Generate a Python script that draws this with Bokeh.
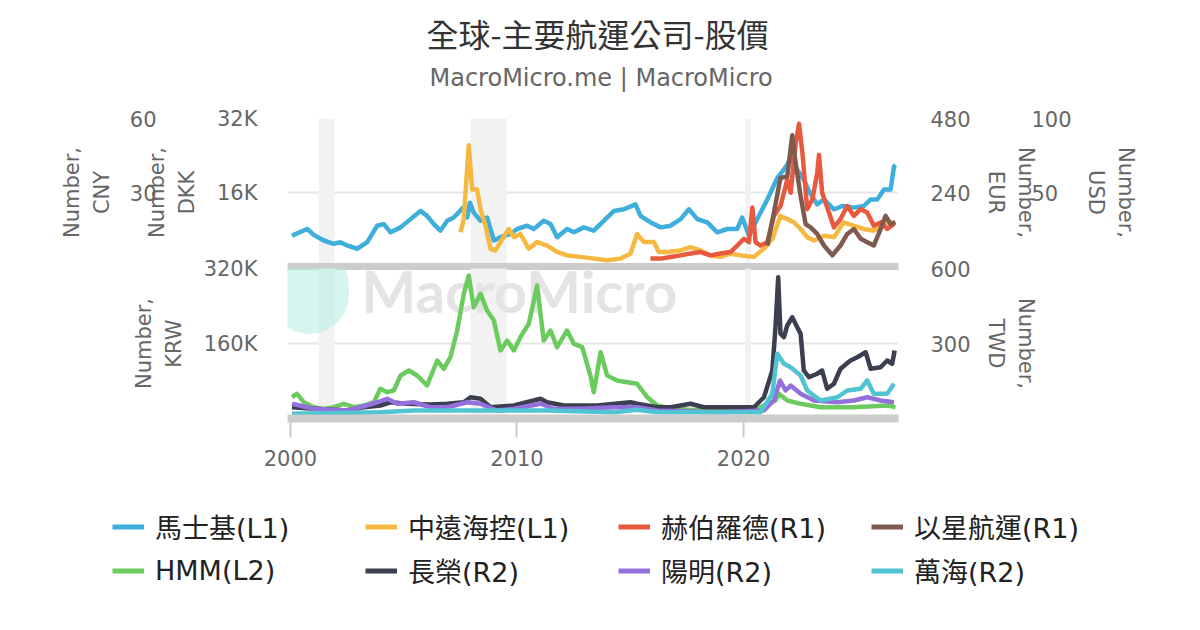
from bokeh.plotting import figure
from bokeh.layouts import column
from bokeh.models import (Range1d, LinearAxis, FixedTicker, BoxAnnotation,
                          Label, Legend, LegendItem, Title)
from bokeh.embed import file_html
from bokeh.resources import INLINE

# ---------------- data ----------------
maersk_dkk = [(2000.07, 6680), (2000.74, 8110), (2001.03, 6830), (2001.47, 5620), (2001.91, 4910),
              (2002.2, 5260), (2002.5, 4550), (2002.94, 3840), (2003.39, 5260), (2003.83, 8820),
              (2004.12, 9170), (2004.42, 7400), (2004.86, 8460), (2005.3, 10240), (2005.74, 12020),
              (2006.03, 10950), (2006.33, 9170), (2006.62, 7750), (2006.92, 9880), (2007.21, 10600),
              (2007.62, 12730), (2007.8, 10600), (2007.92, 13800), (2008.09, 11660), (2008.39, 9880),
              (2008.68, 10600), (2008.98, 5620), (2009.27, 6330), (2009.71, 7040), (2010.01, 8110),
              (2010.45, 8820), (2010.74, 8110), (2011.18, 9880), (2011.48, 9170), (2011.77, 6330),
              (2012.21, 8110), (2012.51, 7400), (2012.95, 8460), (2013.39, 7750), (2013.83, 9880),
              (2014.28, 12020), (2014.72, 12370), (2015.23, 13440), (2015.45, 10950), (2015.9, 9530),
              (2016.34, 8460), (2016.78, 8820), (2017.22, 10240), (2017.59, 12370), (2017.96, 10240),
              (2018.4, 9530), (2018.84, 7400), (2019.28, 8110), (2019.72, 8110), (2019.94, 10600),
              (2020.24, 6680), (2020.6, 10240), (2021.05, 14500), (2021.49, 19130), (2021.93, 21970),
              (2022.08, 23750), (2022.37, 20900), (2022.66, 18770), (2022.89, 16280), (2023.25, 13440),
              (2023.55, 14500), (2023.99, 12370), (2024.36, 13080), (2024.87, 12730), (2025.31, 13080),
              (2025.61, 14500), (2025.9, 14500), (2026.2, 16640), (2026.49, 16640), (2026.64, 21610),
              (2026.71, 21970)]
cosco_cny = [(2007.51, 13.9), (2007.65, 19.2), (2007.87, 49.2), (2008.02, 31.2), (2008.24, 31.2),
             (2008.39, 23.2), (2008.61, 16.5), (2008.83, 7.2), (2009.05, 6.5), (2009.27, 9.9),
             (2009.64, 15.2), (2009.86, 11.9), (2010.15, 13.2), (2010.52, 7.2), (2010.89, 9.9),
             (2011.33, 8.5), (2011.77, 5.9), (2012.21, 4.5), (2012.8, 3.9), (2013.39, 3.2),
             (2013.98, 2.5), (2014.57, 3.2), (2015.01, 5.2), (2015.3, 13.2), (2015.6, 9.9),
             (2016.04, 9.9), (2016.26, 5.9), (2016.63, 5.9), (2017.22, 6.5), (2017.66, 7.9),
             (2018.1, 6.5), (2018.54, 4.5), (2018.98, 3.9), (2019.43, 5.2), (2019.87, 4.5),
             (2020.46, 3.9), (2020.9, 7.2), (2021.27, 11.2), (2021.63, 20.5), (2021.93, 19.2),
             (2022.22, 17.9), (2022.52, 15.2), (2022.81, 11.9), (2023.11, 10.5), (2023.55, 12.5),
             (2023.99, 11.9), (2024.43, 17.9), (2024.87, 16.5), (2025.31, 15.2), (2025.75, 14.5),
             (2026.2, 17.2), (2026.64, 17.9)]
hapag_eur = [(2015.89, 25.6), (2016.34, 25.6), (2016.78, 31), (2017.22, 36), (2017.66, 42),
             (2018.1, 47), (2018.54, 36), (2018.98, 42), (2019.43, 47), (2019.72, 68),
             (2020.02, 90), (2020.24, 79), (2020.39, 191), (2020.53, 79), (2020.75, 68),
             (2021.05, 79), (2021.34, 164), (2021.63, 196), (2021.93, 282), (2022.08, 239),
             (2022.3, 399), (2022.45, 463), (2022.6, 367), (2022.81, 186), (2023.04, 218),
             (2023.25, 303), (2023.33, 362), (2023.47, 239), (2023.77, 175), (2023.99, 127),
             (2024.28, 154), (2024.58, 196), (2024.87, 164), (2025.17, 186), (2025.46, 175),
             (2025.75, 132), (2026.05, 143), (2026.34, 122), (2026.64, 138)]
zim_usd = [(2021.05, 14.2), (2021.34, 36.4), (2021.63, 59.8), (2021.93, 60.9), (2022.15, 88.7),
           (2022.3, 69.8), (2022.52, 47.6), (2022.74, 28.7), (2022.96, 26.4), (2023.25, 22),
           (2023.55, 14.2), (2023.92, 7.6), (2024.28, 14.2), (2024.58, 22), (2024.87, 25.3),
           (2025.17, 18.7), (2025.46, 16.4), (2025.75, 14.2), (2026.05, 25.3), (2026.27, 34.2),
           (2026.49, 28.7), (2026.71, 29.8)]
hmm_krw = [(2000.07, 45500), (2000.29, 52600), (2000.59, 34800), (2001.03, 24200), (2001.47, 20600),
           (2001.91, 24200), (2002.35, 31300), (2002.8, 24200), (2003.24, 27700), (2003.68, 34800),
           (2003.97, 63300), (2004.27, 56200), (2004.56, 59700), (2004.86, 91700), (2005.23, 102400),
           (2005.59, 91700), (2006.03, 70400), (2006.48, 123700), (2006.77, 106000), (2007.06, 130800),
           (2007.36, 187700), (2007.65, 266000), (2007.87, 305000), (2008.09, 237500), (2008.39, 266000),
           (2008.68, 230400), (2008.98, 209100), (2009.27, 145100), (2009.57, 166400), (2009.86, 145100),
           (2010.15, 173500), (2010.52, 202000), (2010.89, 283700), (2011.18, 166400), (2011.48, 187700),
           (2011.77, 152100), (2012.21, 187700), (2012.51, 159300), (2012.88, 152100), (2013.24, 91700),
           (2013.39, 56100), (2013.69, 141400), (2013.98, 91700), (2014.42, 81100), (2014.86, 77400),
           (2015.3, 74000), (2015.75, 45500), (2016.19, 27700), (2016.78, 20700), (2018.25, 17100),
           (2019.72, 17100), (2020.46, 17100), (2021.05, 31300), (2021.41, 38400), (2021.56, 52600),
           (2021.93, 38400), (2022.52, 31300), (2023.4, 24200), (2024.87, 24200), (2026.34, 27700),
           (2026.71, 24200)]
evergreen_twd = [(2000.07, 45), (2001.03, 39), (2002.5, 32), (2003.24, 45), (2003.97, 52), (2004.42, 65),
                 (2005.15, 59), (2006.18, 56), (2006.92, 59), (2007.65, 65), (2007.95, 85), (2008.39, 79),
                 (2008.83, 45), (2009.86, 52), (2011.04, 79), (2011.33, 65), (2012.07, 52), (2013.54, 52),
                 (2015.01, 65), (2015.3, 59), (2016.19, 45), (2016.78, 45), (2017.66, 59), (2018.25, 45),
                 (2019.72, 45), (2020.46, 45), (2020.9, 85), (2021.27, 192), (2021.41, 365), (2021.53, 565),
                 (2021.63, 339), (2021.78, 325), (2021.93, 372), (2022.15, 405), (2022.37, 365),
                 (2022.52, 339), (2022.66, 192), (2022.89, 165), (2023.25, 179), (2023.47, 192),
                 (2023.69, 119), (2023.99, 139), (2024.28, 199), (2024.72, 232), (2025.02, 245),
                 (2025.39, 265), (2025.61, 199), (2026.05, 205), (2026.34, 232), (2026.56, 219),
                 (2026.67, 272)]
yangming_twd = [(2000.07, 59), (2001.03, 39), (2002.5, 32), (2003.09, 45), (2003.83, 65), (2004.27, 79),
                (2004.71, 59), (2005.45, 65), (2006.18, 45), (2006.92, 45), (2007.8, 65), (2008.39, 59),
                (2009.12, 32), (2009.86, 39), (2011.04, 59), (2011.62, 39), (2012.8, 39), (2014.28, 45),
                (2015.3, 45), (2016.2, 32), (2018.98, 25), (2020.9, 32), (2021.34, 72), (2021.61, 152),
                (2021.86, 112), (2022.08, 132), (2022.52, 99), (2023.11, 72), (2024.14, 65),
                (2024.87, 72), (2025.46, 85), (2026.05, 72), (2026.64, 65)]
wanhai_twd = [(2000.07, 19), (2003.97, 25), (2005.45, 32), (2008.39, 32), (2011.33, 32), (2014.28, 25),
              (2015.3, 35), (2016.19, 25), (2018.98, 25), (2020.75, 25), (2021.27, 99), (2021.49, 259),
              (2021.78, 219), (2022.08, 205), (2022.52, 172), (2022.81, 112), (2023.4, 72),
              (2024.14, 85), (2024.58, 112), (2025.17, 119), (2025.46, 152), (2025.75, 99),
              (2026.34, 99), (2026.64, 139)]

recession_start = [2001.25, 2007.95, 2020.08]
recession_end = [2001.95, 2009.55, 2020.33]

x_ticks = [2000, 2010, 2020]
dkk_ticks, dkk_labels = [16000, 32000], ["16K", "32K"]
cny_ticks = [30, 60]
eur_ticks = [240, 480]
usd_ticks = [50, 100]
krw_ticks, krw_labels = [160000, 320000], ["160K", "320K"]
twd_ticks = [300, 600]

TITLE = "全球-主要航運公司-股價"
SUBTITLE = "MacroMicro.me | MacroMicro"

top_series = [
    ("馬士基(L1)", maersk_dkk, "default", "#3eaedb"),
    ("中遠海控(L1)", cosco_cny, "cny", "#f5b942"),
    ("赫伯羅德(R1)", hapag_eur, "eur", "#e8593f"),
    ("以星航運(R1)", zim_usd, "usd", "#7f5a4f"),
]
bottom_series = [
    ("HMM(L2)", hmm_krw, "default", "#6ccb5f"),
    ("長榮(R2)", evergreen_twd, "twd", "#3b3f50"),
    ("陽明(R2)", yangming_twd, "twd", "#9370db"),
    ("萬海(R2)", wanhai_twd, "twd", "#50c4d2"),
]

FONT = "'DejaVu Sans', 'Noto Sans CJK TC', sans-serif"
CJK = "'Noto Sans CJK TC', sans-serif"
GRAY_TXT = "#666666"
W = 1192
LW = 4.5

x_rng = Range1d(1999.87, 2026.84)


def make_fig(height, y_rng, top_border, bottom_border):
    f = figure(width=W, height=height, output_backend="svg", toolbar_location=None,
               x_range=x_rng, y_range=y_rng, title=None,
               min_border_left=287, min_border_right=294, min_border_top=top_border,
               min_border_bottom=bottom_border, outline_line_color=None)
    f.xgrid.visible = False
    f.ygrid.grid_line_color = "#e6e6e6"
    f.ygrid.grid_line_width = 2
    for s, e in zip(recession_start, recession_end):
        f.add_layout(BoxAnnotation(left=s, right=e, fill_color="#f2f2f2", fill_alpha=1.0,
                                   line_color=None, level="underlay"))
    return f


def style_axis(ax, standoff, label, label_standoff):
    ax.axis_line_color = None
    ax.major_tick_line_color = None
    ax.minor_tick_line_color = None
    ax.major_tick_in = 0
    ax.major_tick_out = 0
    ax.major_label_standoff = standoff
    ax.major_label_text_font = FONT
    ax.major_label_text_font_size = "21px"
    ax.major_label_text_color = GRAY_TXT
    ax.axis_label = label
    ax.axis_label_standoff = label_standoff
    ax.axis_label_text_font = FONT
    ax.axis_label_text_font_size = "21px"
    ax.axis_label_text_font_style = "normal"
    ax.axis_label_text_color = GRAY_TXT
    ax.axis_label_text_line_height = 1.25


def add_lines(f, series):
    for name, pts, rng, color in series:
        xs = [a for a, b in pts]
        ys = [b for a, b in pts]
        kw = {} if rng == "default" else {"y_range_name": rng}
        f.line(xs, ys, line_color=color, line_width=LW, line_join="round", **kw)

# ---------------- top panel ----------------
top = make_fig(282, Range1d(0, 32000), 118, 16)
top.extra_y_ranges = {"cny": Range1d(0, 60), "eur": Range1d(0, 480), "usd": Range1d(0, 100)}
top.ygrid.ticker = FixedTicker(ticks=dkk_ticks)

ya = top.yaxis[0]
ya.ticker = FixedTicker(ticks=dkk_ticks)
ya.major_label_overrides = dict(zip(dkk_ticks, dkk_labels))
style_axis(ya, 30, "Number,\nDKK", 15)

ax = LinearAxis(y_range_name="cny", ticker=FixedTicker(ticks=cny_ticks))
style_axis(ax, -14, "Number,\nCNY", 13)
top.add_layout(ax, "left")

ax = LinearAxis(y_range_name="eur", ticker=FixedTicker(ticks=eur_ticks))
style_axis(ax, 32, "Number,\nEUR", 10)
top.add_layout(ax, "right")

ax = LinearAxis(y_range_name="usd", ticker=FixedTicker(ticks=usd_ticks))
style_axis(ax, -9, "Number,\nUSD", 9)
top.add_layout(ax, "right")

txa = top.xaxis[0]
txa.ticker = FixedTicker(ticks=[])
txa.axis_line_color = "#cccccc"
txa.axis_line_width = 7
txa.major_tick_out = 0
txa.major_tick_in = 0
txa.minor_tick_line_color = None
txa.major_tick_line_color = None

top.add_layout(Title(text=SUBTITLE, align="left", offset=142, text_font=FONT,
                     text_font_size="24px", text_font_style="normal", text_color=GRAY_TXT,
                     standoff=54), "above")
top.add_layout(Title(text=TITLE, align="left", offset=139, text_font=CJK,
                     text_font_size="32px", text_font_style="normal", text_color="#333333",
                     standoff=-42), "above")

add_lines(top, top_series)

# ---------------- bottom panel ----------------
bot = make_fig(224, Range1d(0, 320000), 14, 60)
bot.background_fill_alpha = 0
bot.border_fill_alpha = 0
bot.margin = (-28, 0, 0, 0)
bot.extra_y_ranges = {"twd": Range1d(0, 600)}
bot.ygrid.ticker = FixedTicker(ticks=krw_ticks)

by = bot.yaxis[0]
by.ticker = FixedTicker(ticks=krw_ticks)
by.major_label_overrides = dict(zip(krw_ticks, krw_labels))
style_axis(by, 30, "Number,\nKRW", 15)

ax = LinearAxis(y_range_name="twd", ticker=FixedTicker(ticks=twd_ticks))
style_axis(ax, 32, "Number,\nTWD", 10)
bot.add_layout(ax, "right")

bxa = bot.xaxis[0]
bxa.ticker = FixedTicker(ticks=x_ticks)
bxa.axis_line_color = "#cccccc"
bxa.axis_line_width = 8
bxa.major_tick_line_color = "#cccccc"
bxa.major_tick_line_width = 2
bxa.major_tick_in = 0
bxa.major_tick_out = 19
bxa.minor_tick_line_color = None
bxa.major_label_standoff = 12
bxa.major_label_text_font = FONT
bxa.major_label_text_font_size = "21px"
bxa.major_label_text_color = GRAY_TXT

# watermark
try:
    bot.add_layout(Label(x=22, y=128, x_units="screen", y_units="screen", text=" ",
                         text_font_size="10px", text_align="center", text_baseline="middle",
                         padding=38, border_radius=39, background_fill_color="#bdeee4",
                         background_fill_alpha=0.6, level="underlay"))
except Exception:
    pass
bot.add_layout(Label(x=232, y=128, x_units="screen", y_units="screen", text="MacroMicro",
                     text_font="Lato", text_font_style="bold", text_font_size="58px",
                     text_color="#e4e4e4", text_align="center", text_baseline="middle",
                     level="underlay"))

add_lines(bot, bottom_series)

# ---------------- legend (own full-width figure, separate root) ----------------
leg = figure(width=W, height=144, output_backend="svg", toolbar_location=None,
             x_axis_type=None, y_axis_type=None, x_range=Range1d(0, 1), y_range=Range1d(0, 1),
             min_border=0, outline_line_color=None, title=None)
leg.grid.visible = False
nan = float("nan")
items = []
for name, pts, rng, color in top_series + bottom_series:
    r = leg.line(x=[nan], y=[nan], line_color=color, line_width=5)
    items.append(LegendItem(label=name, renderers=[r]))
legend = Legend(items=items, location=(112, 32), orientation="horizontal", ncols=4,
                glyph_width=32, glyph_height=33, label_height=33, label_width=205,
                label_standoff=11, spacing=5, padding=10, margin=0,
                border_line_color=None, background_fill_alpha=0,
                label_text_font=FONT, label_text_font_size="27px", label_text_color="#222222")
leg.add_layout(legend)

charts = column(top, bot, spacing=0)
open("out.html", "w").write(file_html([charts, leg], INLINE))
